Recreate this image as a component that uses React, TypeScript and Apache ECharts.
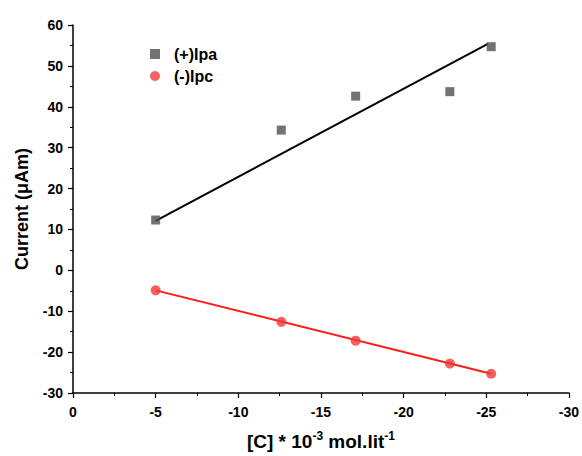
import React, { useEffect, useRef } from "react";
import * as echarts from "echarts";

// x values: concentration [C] * 10^-3 mol.lit^-1
const concentrations = [-5, -12.6, -17.1, -22.8, -25.3];
const ipaValues = [12.3, 34.3, 42.6, 43.7, 54.7];
const ipcValues = [-4.9, -12.6, -17.2, -22.8, -25.3];
// fitted straight lines (end points)
const ipaFitX = [-5, -25.1];
const ipaFitY = [12.1, 55.4];
const ipcFitX = [-5, -25.3];
const ipcFitY = [-4.9, -25.3];

const FONT = "Liberation Sans, Arial, sans-serif";

export default function App() {
  const ref = useRef<HTMLDivElement>(null);
  useEffect(() => {
    if (!ref.current) return;
    const chart = echarts.init(ref.current, null, { renderer: "svg" });
    const pairs = (xs: number[], ys: number[]) => xs.map((x, i) => [x, ys[i]]);
    const axisCommon = {
      axisLine: { show: true, onZero: false, lineStyle: { color: "#000", width: 1.5 } },
      axisTick: { show: true, inside: false, length: 5, lineStyle: { color: "#000", width: 1.2 } },
      minorTick: { show: true, splitNumber: 2, length: 3, lineStyle: { color: "#000", width: 1 } },
      splitLine: { show: false },
      axisLabel: { color: "#000", fontFamily: FONT, fontWeight: "bold", fontSize: 14 },
    };
    chart.setOption({
      animation: false,
      backgroundColor: "#fff",
      grid: { left: 73, right: 11, top: 25, bottom: 61, containLabel: false },
      legend: {
        orient: "vertical",
        left: 145,
        top: 41,
        itemWidth: 10,
        itemHeight: 10,
        itemGap: 6,
        textStyle: { color: "#000", fontFamily: FONT, fontWeight: "bold", fontSize: 16, lineHeight: 16, padding: [0, 0, 0, 9] },
        data: [
          { name: "(+)Ipa", icon: "rect" },
          { name: "(-)Ipc", icon: "circle" },
        ],
      },
      xAxis: {
        type: "value",
        min: -30,
        max: 0,
        interval: 5,
        inverse: true,
        ...axisCommon,
        axisLabel: { ...axisCommon.axisLabel, margin: 12 },
        name: "{b|[C] * 10}{s|-3}{b| mol.lit}{s|-1}",
        nameLocation: "middle",
        nameGap: 37,
        nameTextStyle: {
          rich: {
            b: { fontFamily: FONT, fontWeight: "bold", fontSize: 19, color: "#000", lineHeight: 22 },
            s: { fontFamily: FONT, fontWeight: "bold", fontSize: 12, color: "#000", lineHeight: 22, verticalAlign: "top", padding: [0, 0, 9, 0] },
          },
        },
      },
      yAxis: {
        type: "value",
        min: -30,
        max: 60,
        interval: 10,
        ...axisCommon,
        axisLabel: { ...axisCommon.axisLabel, margin: 10 },
        name: "Current (μAm)",
        nameLocation: "middle",
        nameGap: 42,
        nameRotate: 90,
        nameTextStyle: { fontFamily: FONT, fontWeight: "bold", fontSize: 18, color: "#000" },
      },
      series: [
        {
          name: "(+)Ipa fit",
          type: "line",
          data: pairs(ipaFitX, ipaFitY),
          showSymbol: false,
          lineStyle: { color: "#000", width: 2 },
          z: 2,
        },
        {
          name: "(-)Ipc fit",
          type: "line",
          data: pairs(ipcFitX, ipcFitY),
          showSymbol: false,
          lineStyle: { color: "#ff1a1a", width: 2 },
          z: 2,
        },
        {
          name: "(+)Ipa",
          type: "scatter",
          symbol: "rect",
          symbolSize: 9,
          data: pairs(concentrations, ipaValues),
          itemStyle: { color: "#4f4f4f" },
          z: 3,
        },
        {
          name: "(-)Ipc",
          type: "scatter",
          symbol: "circle",
          symbolSize: 10,
          data: pairs(concentrations, ipcValues),
          itemStyle: { color: "#f03a3a" },
          z: 3,
        },
      ],
    });
    return () => chart.dispose();
  }, []);
  return <div ref={ref} style={{ width: 582, height: 456, position: "absolute", left: 0, top: 0 }} />;
}
